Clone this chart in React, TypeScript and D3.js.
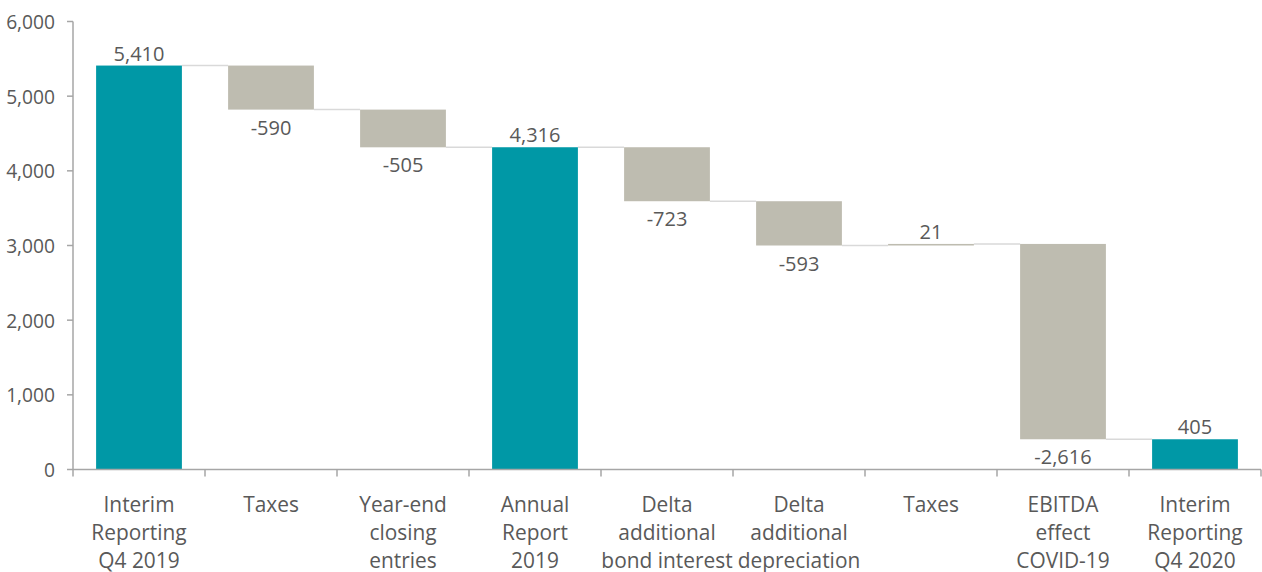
import React, { useEffect, useRef } from 'react';
import * as d3 from 'd3';

const categories = [
  ['Interim', 'Reporting', 'Q4 2019'],
  ['Taxes'],
  ['Year-end', 'closing', 'entries'],
  ['Annual', 'Report', '2019'],
  ['Delta', 'additional', 'bond interest'],
  ['Delta', 'additional', 'depreciation'],
  ['Taxes'],
  ['EBITDA', 'effect', 'COVID-19'],
  ['Interim', 'Reporting', 'Q4 2020'],
];
const values = [5410, -590, -505, 4316, -723, -593, 21, -2616, 405];
const isTotal = [true, false, false, true, false, false, false, false, true];
const yTicks = [0, 1000, 2000, 3000, 4000, 5000, 6000];

const W = 1262;
const H = 572;
const TEAL = '#0098a6';
const GREY = '#bebcb0';
const TEXT = '#595959';
const AXIS = '#a6a6a6';
const FONT = '"Open Sans", "Noto Sans", sans-serif';

const App = () => {
  const svgRef = useRef<SVGSVGElement>(null);

  useEffect(() => {
    const svg = d3.select(svgRef.current);
    svg.selectAll('*').remove();

    const x = d3.scaleBand<number>()
      .domain(values.map((_, i) => i))
      .range([73, 1261])
      .paddingInner(0.35)
      .paddingOuter(0.175);
    const y = d3.scaleLinear().domain([0, 6000]).range([469.5, 21.5]);

    // waterfall spans
    let run = 0;
    const bars = values.map((v, i) => {
      let lo, hi, end;
      if (isTotal[i]) {
        lo = 0; hi = v; end = v;
      } else {
        const start = run;
        end = run + v;
        lo = Math.min(start, end);
        hi = Math.max(start, end);
      }
      run = end;
      return { i, v, lo, hi, end };
    });

    // connectors
    svg.append('g')
      .selectAll('line')
      .data(bars.slice(0, -1))
      .join('line')
      .attr('x1', d => x(d.i)! + x.bandwidth())
      .attr('x2', d => x(d.i + 1)!)
      .attr('y1', d => y(d.end))
      .attr('y2', d => y(d.end))
      .attr('stroke', '#d9d9d9')
      .attr('stroke-width', 1.5);

    svg.append('g')
      .selectAll('rect')
      .data(bars)
      .join('rect')
      .attr('x', d => x(d.i)!)
      .attr('width', x.bandwidth())
      .attr('y', d => y(d.hi))
      .attr('height', d => Math.max(1.5, y(d.lo) - y(d.hi)))
      .attr('fill', d => (isTotal[d.i] ? TEAL : GREY));

    // value labels
    const fmt = d3.format(',');
    svg.append('g')
      .selectAll('text')
      .data(bars)
      .join('text')
      .attr('x', d => x(d.i)! + x.bandwidth() / 2)
      .attr('y', d => (d.v >= 0 ? y(d.hi) - 5 : y(d.lo) + 25))
      .attr('text-anchor', 'middle')
      .attr('font-family', FONT)
      .attr('font-size', 20)
      .attr('fill', TEXT)
      .text(d => (d.v < 0 ? '-' + fmt(-d.v) : fmt(d.v)));

    // y axis
    const yAxis = svg.append('g').attr('transform', 'translate(73,0)');
    yAxis.append('line')
      .attr('y1', y(0)).attr('y2', y(6000))
      .attr('stroke', AXIS).attr('stroke-width', 1.5);
    yAxis.selectAll('.tk')
      .data(yTicks)
      .join('line')
      .attr('class', 'tk')
      .attr('x1', -6).attr('x2', 0)
      .attr('y1', d => y(d)).attr('y2', d => y(d))
      .attr('stroke', AXIS).attr('stroke-width', 1.5);
    yAxis.selectAll('.lbl')
      .data(yTicks)
      .join('text')
      .attr('class', 'lbl')
      .attr('transform', d => `translate(-18,${y(d) + 7.5}) scale(0.96,1)`)
      .attr('text-anchor', 'end')
      .attr('font-family', FONT)
      .attr('font-size', 20)
      .attr('fill', TEXT)
      .text(d => fmt(d));

    // x axis
    const xAxis = svg.append('g').attr('transform', `translate(0,${y(0)})`);
    xAxis.append('line')
      .attr('x1', 73).attr('x2', 1261)
      .attr('stroke', AXIS).attr('stroke-width', 1.5);
    const bounds = d3.range(values.length + 1).map(i => 73 + i * x.step());
    xAxis.selectAll('.tk')
      .data(bounds)
      .join('line')
      .attr('class', 'tk')
      .attr('x1', d => d).attr('x2', d => d)
      .attr('y1', 0).attr('y2', 7)
      .attr('stroke', AXIS).attr('stroke-width', 1.5);

    const lines = categories.flatMap((c, i) => c.map((t, j) => ({ t, i, j })));
    xAxis.selectAll('.cat')
      .data(lines)
      .join('text')
      .attr('class', 'cat')
      .attr('transform', d => `translate(${x(d.i)! + x.bandwidth() / 2},${42.5 + d.j * 28}) scale(0.95,1)`)
      .attr('text-anchor', 'middle')
      .attr('font-family', FONT)
      .attr('font-size', 22)
      .attr('fill', TEXT)
      .text(d => d.t);
  }, []);

  return (
    <svg ref={svgRef} width={W} height={H} style={{ position: 'absolute', left: 0, top: 0, background: '#fff' }} />
  );
};

export default App;
